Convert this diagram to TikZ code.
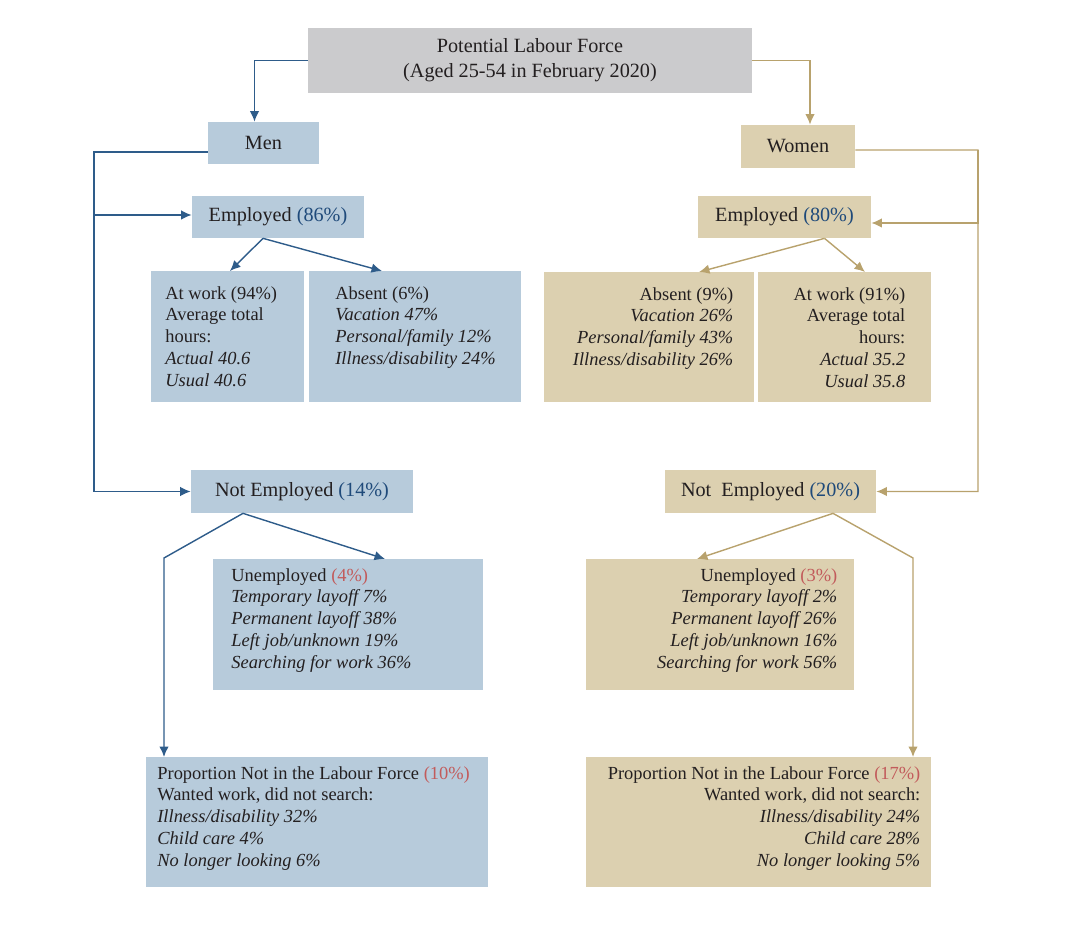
\documentclass[tikz,border=0pt]{standalone}
\usepackage{fontspec}
\setmainfont{Liberation Serif}
\usetikzlibrary{arrows.meta,calc}
\definecolor{menfill}{HTML}{B7CBDB}
\definecolor{womenfill}{HTML}{DCD0B0}
\definecolor{topfill}{HTML}{CBCBCD}
\definecolor{menline}{HTML}{2E5C8A}
\definecolor{womenline}{HTML}{B8A26D}
\definecolor{pctblue}{HTML}{1F4A7A}
\definecolor{pctred}{HTML}{C25B5B}
\definecolor{ink}{HTML}{231F20}
\newlength\unitpx
\setlength\unitpx{0.02cm}
\newcommand{\leftcell}[5]{\parbox[c][#2\unitpx][t]{#1\unitpx}{\raggedright\leftskip=#3\unitpx\vspace*{#4\unitpx}#5}}
\newcommand{\rightcell}[5]{\parbox[c][#2\unitpx][t]{#1\unitpx}{\raggedleft\rightskip=#3\unitpx\vspace*{#4\unitpx}#5}}
\tikzset{
  headfont/.style={font=\fontsize{11.5}{14.2}\selectfont},
  cellfont/.style={font=\fontsize{10.5}{12.4}\selectfont},
  topbox/.style={fill=topfill, headfont, text=ink, align=center, inner sep=0pt},
  menhead/.style={fill=menfill, headfont, text=ink, inner sep=0pt},
  womenhead/.style={fill=womenfill, headfont, text=ink, inner sep=0pt},
  mencell/.style={fill=menfill, cellfont, text=ink, inner sep=0pt, anchor=north west},
  womencell/.style={fill=womenfill, cellfont, text=ink, inner sep=0pt, anchor=north west},
  marrow/.style={draw=menline, line width=0.8pt, -{Latex[length=2.1mm,width=1.9mm]}},
  warrow/.style={draw=womenline, line width=0.8pt, -{Latex[length=2.1mm,width=1.9mm]}}
}
\begin{document}
\begin{tikzpicture}[x=0.02cm, y=-0.02cm]
  \useasboundingbox (0,0) rectangle (1072,932);
  \node[topbox, minimum width=8.88cm, minimum height=1.3cm] (plf) at (530,60.5) {Potential Labour Force\\(Aged 25-54 in February 2020)};
  \node[menhead, minimum width=2.22cm, minimum height=0.84cm] (men) at (263.5,143) {Men};
  \node[womenhead, minimum width=2.28cm, minimum height=0.86cm] (women) at (798,146.5) {Women};
  \node[menhead, minimum width=3.44cm, minimum height=0.84cm] (empM) at (278,217) {Employed \textcolor{pctblue}{(86\%)}};
  \node[womenhead, minimum width=3.46cm, minimum height=0.84cm] (empW) at (784.5,217) {Employed \textcolor{pctblue}{(80\%)}};
  \node[menhead, minimum width=4.44cm, minimum height=0.86cm] (notempM) at (302,491.5) {Not Employed \textcolor{pctblue}{(14\%)}};
  \node[womenhead, minimum width=4.22cm, minimum height=0.86cm] (notempW) at (770.5,491.5) {Not\ \ Employed \textcolor{pctblue}{(20\%)}};

  \node[mencell] (atwM) at (151,271) {\leftcell{153}{131}{14}{15}{At work (94\%)\\Average total\\hours:\\\textit{Actual 40.6}\\\textit{Usual 40.6}}};
  \node[mencell] (absM) at (309,271) {\leftcell{212}{131}{26}{15}{Absent (6\%)\\\textit{Vacation 47\%}\\\textit{Personal/family 12\%}\\\textit{Illness/disability 24\%}}};
  \node[womencell] (absW) at (544,272) {\rightcell{210}{130}{21}{15}{Absent (9\%)\\\textit{Vacation 26\%}\\\textit{Personal/family 43\%}\\\textit{Illness/disability 26\%}}};
  \node[womencell] (atwW) at (758,272) {\rightcell{173}{130}{26}{15}{At work (91\%)\\Average total\\hours:\\\textit{Actual 35.2}\\\textit{Usual 35.8}}};
  \node[mencell] (unempM) at (213,559) {\leftcell{270}{131}{18}{9}{Unemployed \textcolor{pctred}{(4\%)}\\\textit{Temporary layoff 7\%}\\\textit{Permanent layoff 38\%}\\\textit{Left job/unknown 19\%}\\\textit{Searching for work 36\%}}};
  \node[womencell] (unempW) at (586,559) {\rightcell{268}{131}{17}{9}{Unemployed \textcolor{pctred}{(3\%)}\\\textit{Temporary layoff 2\%}\\\textit{Permanent layoff 26\%}\\\textit{Left job/unknown 16\%}\\\textit{Searching for work 56\%}}};
  \node[mencell] (propM) at (146,757) {\leftcell{342}{130}{11}{9}{Proportion Not in the Labour Force \textcolor{pctred}{(10\%)}\\Wanted work, did not search:\\\textit{Illness/disability 32\%}\\\textit{Child care 4\%}\\\textit{No longer looking 6\%}}};
  \node[womencell] (propW) at (586,757) {\rightcell{345}{130}{11}{9}{Proportion Not in the Labour Force \textcolor{pctred}{(17\%)}\\Wanted work, did not search:\\\textit{Illness/disability 24\%}\\\textit{Child care 28\%}\\\textit{No longer looking 5\%}}};

  \coordinate (mtop) at (94,152);
  \coordinate (wtop) at (978,150);
  \coordinate (mbend) at (164,558);
  \coordinate (wbend) at (913,558);

  \draw[marrow] (plf.west) -| ($(men.north)+(-9,0)$);
  \draw[warrow] (plf.east) -| ($(women.north)+(12,0)$);
  \draw[marrow] ($(men.west)+(0,9)$) -- (mtop) |- (notempM.west);
  \draw[marrow] (mtop) |- ($(empM.west)+(0,-2)$);
  \draw[warrow] ($(women.east)+(0,3.5)$) -- (wtop) |- (notempW.east);
  \draw[warrow] (wtop) |- ($(empW.east)+(0,6)$);

  \draw[marrow] ($(empM.south)+(-15,0)$) -- ($(atwM.north west)+(79,0)$);
  \draw[marrow] ($(empM.south)+(-15,0)$) -- ($(absM.north west)+(73,0)$);
  \draw[warrow] ($(empW.south)+(40,0)$) -- ($(absW.north west)+(155,0)$);
  \draw[warrow] ($(empW.south)+(40,0)$) -- ($(atwW.north west)+(107,0)$);

  \draw[marrow] ($(notempM.south)+(-59,0)$) -- ($(unempM.north west)+(172,0)$);
  \draw[marrow] ($(notempM.south)+(-59,0)$) -- (mbend) -- (mbend |- propM.north);
  \draw[warrow] ($(notempW.south)+(62.5,0)$) -- ($(unempW.north west)+(111,0)$);
  \draw[warrow] ($(notempW.south)+(62.5,0)$) -- (wbend) -- (wbend |- propW.north);
\end{tikzpicture}
\end{document}
